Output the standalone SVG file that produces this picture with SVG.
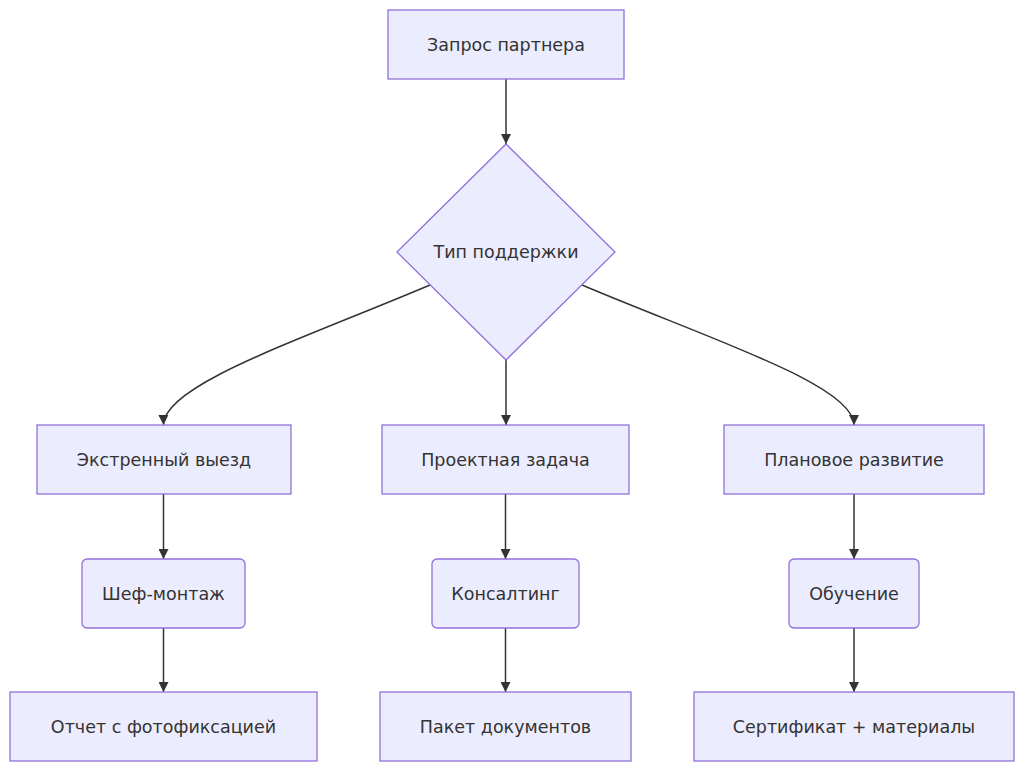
<svg xmlns="http://www.w3.org/2000/svg" width="1024" height="772" viewBox="0 0 1024 772">
<style>
.node rect,.node polygon{fill:#ECECFF;stroke:#9370DB;stroke-width:1.3}
.node text{font-family:"DejaVu Sans",sans-serif;font-size:17.5px;fill:#333;text-anchor:middle;dominant-baseline:central}
.edges path{fill:none;stroke:#333;stroke-width:1.5;marker-end:url(#arrow)}
</style>
<defs>
<marker id="arrow" viewBox="0 0 10 10" refX="10" refY="5" markerWidth="10" markerHeight="10" markerUnits="userSpaceOnUse" orient="auto">
<path d="M0,0 L10,5 L0,10 z" fill="#333"/>
</marker>
</defs>
<rect width="1024" height="772" fill="#fff"/>
<g class="edges">
<path d="M506,79 L506,144"/>
<path d="M430,285 C300,340 163,385 163.5,425"/>
<path d="M506,360 L506,425"/>
<path d="M582,285 C712,340 854,385 854,425"/>
<path d="M163.5,494 L163.5,559"/>
<path d="M505.5,494 L505.5,559"/>
<path d="M854,494 L854,559"/>
<path d="M163.5,628 L163.5,692"/>
<path d="M505.5,628 L505.5,692"/>
<path d="M854,628 L854,692"/>
</g>
<g id="n1" class="node"><rect x="388" y="10" width="236" height="69"/><text x="506" y="44.5">Запрос партнера</text></g>
<g id="n2" class="node"><polygon points="506,144 615,252 506,360 397,252"/><text x="506" y="252">Тип поддержки</text></g>
<g id="n3" class="node"><rect x="37" y="425" width="254" height="69"/><text x="164" y="459.5">Экстренный выезд</text></g>
<g id="n4" class="node"><rect x="382" y="425" width="247" height="69"/><text x="505.5" y="459.5">Проектная задача</text></g>
<g id="n5" class="node"><rect x="724" y="425" width="260" height="69"/><text x="854" y="459.5">Плановое развитие</text></g>
<g id="n6" class="node"><rect x="82" y="559" width="163" height="69" rx="5"/><text x="163.5" y="593.5">Шеф-монтаж</text></g>
<g id="n7" class="node"><rect x="432" y="559" width="147" height="69" rx="5"/><text x="505.5" y="593.5">Консалтинг</text></g>
<g id="n8" class="node"><rect x="789" y="559" width="130" height="69" rx="5"/><text x="854" y="593.5">Обучение</text></g>
<g id="n9" class="node"><rect x="10" y="692" width="307" height="69"/><text x="163.5" y="726.5">Отчет с фотофиксацией</text></g>
<g id="n10" class="node"><rect x="380" y="692" width="251" height="69"/><text x="505.5" y="726.5">Пакет документов</text></g>
<g id="n11" class="node"><rect x="694" y="692" width="320" height="69"/><text x="854" y="726.5">Сертификат + материалы</text></g>
</svg>
